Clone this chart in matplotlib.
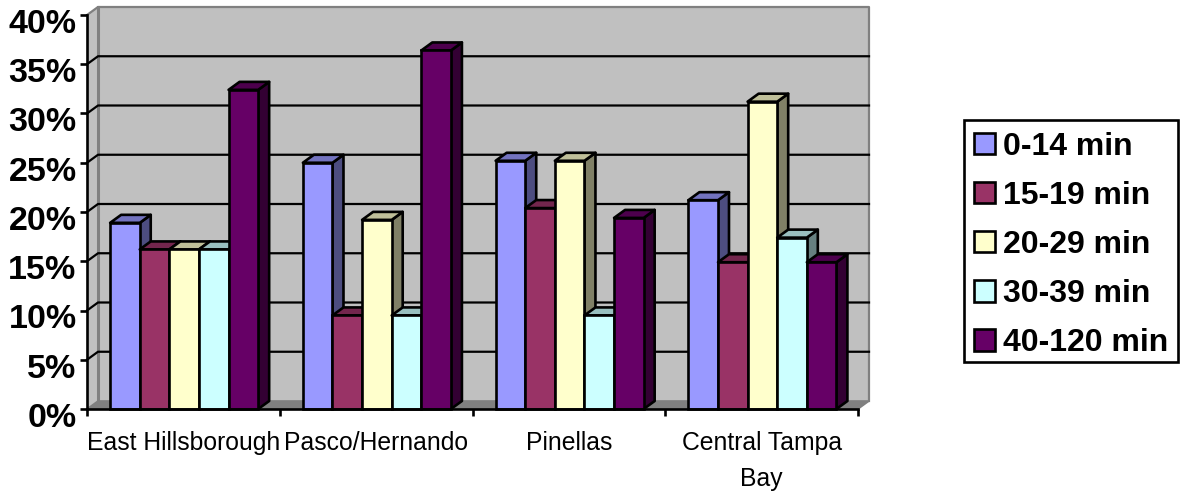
#-------------------------------------------------------------------------------
import numpy as np
import matplotlib
matplotlib.use('Agg')
import matplotlib.pyplot as plt
from matplotlib.patches import Polygon, Patch, Rectangle
from matplotlib.colors import to_rgb
from matplotlib.transforms import ScaledTranslation
#-------------------------------------------------------------------------------
categories = ['East Hillsborough', 'Pasco/Hernando', 'Pinellas', 'Central Tampa\nBay']
series     = ['0-14 min', '15-19 min', '20-29 min', '30-39 min', '40-120 min']
v_0_14     = [18.9, 25.0, 25.2, 21.2]
v_15_19    = [16.2,  9.5, 20.4, 14.9]
v_20_29    = [16.2, 19.2, 25.2, 31.2]
v_30_39    = [16.2,  9.5,  9.5, 17.4]
v_40_120   = [32.4, 36.4, 19.4, 14.9]
values     = [v_0_14, v_15_19, v_20_29, v_30_39, v_40_120]
colors     = ['#9999FF', '#993366', '#FFFFCC', '#CCFFFF', '#660066']
y_ticks    = [0, 5, 10, 15, 20, 25, 30, 35, 40]
#-------------------------------------------------------------------------------
W, H = 1183, 491
x0, x1 = 87, 858      # front axis, pixels
y0, y1 = 409, 15
plt.rcParams['font.family'] = ['Liberation Sans', 'DejaVu Sans']
fig = plt.figure(figsize=(W/100, H/100), dpi=100)
ax = fig.add_axes([x0/W, 1-y0/H, (x1-x0)/W, (y0-y1)/H])
ax.set_xlim(0, 4)
ax.set_ylim(0, 40)
#-------------------------------------------------------------------------------
# depth of the fake 3d box, in data units
dx = 11/((x1-x0)/4.)
dy = 8/((y0-y1)/40.)
lw = 1.9
def shade(c, f):
    return tuple(np.array(to_rgb(c))*f)
#-------------------------------------------------------------------------------
# walls and floor
ax.add_patch(Polygon([(dx, dy), (4+dx, dy), (4+dx, 40+dy), (dx, 40+dy)], fc='#C0C0C0', ec='none', zorder=1, clip_on=False))
ax.add_patch(Polygon([(0, 0), (dx, dy), (dx, 40+dy), (0, 40)], fc='#C0C0C0', ec='none', zorder=1, clip_on=False))
ax.add_patch(Polygon([(0, 0), (4, 0), (4+dx, dy), (dx, dy)], fc='#808080', ec='none', zorder=1, clip_on=False))
ax.plot([dx, dx], [dy, 40+dy], color='#808080', lw=2.2, zorder=1.5, clip_on=False)
ax.plot([0, dx, 4+dx, 4+dx], [40, 40+dy, 40+dy, dy], color='#808080', lw=1.6, zorder=1.5, clip_on=False)
ax.plot([0, dx, 4+dx, 4], [0, dy, dy, 0], color='#808080', lw=1.2, zorder=1.5, clip_on=False)
for t in y_ticks[1:-1]:
    ax.plot([0, dx, 4+dx], [t, t+dy, t+dy], color='k', lw=1.6, zorder=2, clip_on=False)
#-------------------------------------------------------------------------------
bw = 0.1536
start = 0.12
z = 3
for g in range(len(categories)):
    for s in range(len(series)):
        v = values[s][g]
        c = colors[s]
        x = g + start + s*bw
        ax.add_patch(Polygon([(x+bw, 0), (x+bw+dx, dy), (x+bw+dx, v+dy), (x+bw, v)],
                             fc=shade(c, 0.5), ec='k', lw=lw, zorder=z, clip_on=False, joinstyle='round'))
        ax.add_patch(Polygon([(x, v), (x+dx, v+dy), (x+bw+dx, v+dy), (x+bw, v)],
                             fc=shade(c, 0.75), ec='k', lw=lw, zorder=z, clip_on=False, joinstyle='round'))
        ax.bar(x, v, bw, align='edge', color=c, edgecolor='k', linewidth=lw, zorder=z+0.5, clip_on=False)
        z += 1
#-------------------------------------------------------------------------------
for sp in ['top', 'right']:
    ax.spines[sp].set_visible(False)
for sp in ['left', 'bottom']:
    ax.spines[sp].set_linewidth(lw)
    ax.spines[sp].set_zorder(100)
ax.patch.set_visible(False)
ax.set_yticks(y_ticks)
ax.set_yticklabels([str(t)+'%' for t in y_ticks], fontsize=24.5, fontweight='bold')
ax.set_xticks([0, 1, 2, 3, 4])
ax.set_xticklabels([])
ax.set_xticks([0.5, 1.5, 2.5, 3.5], minor=True)
ax.set_xticklabels(categories, minor=True, fontsize=17.8, linespacing=1.65)
ax.tick_params(axis='y', length=5, width=lw, pad=2.5)
ax.tick_params(axis='x', which='major', length=5, width=lw)
ax.tick_params(axis='x', which='minor', length=0, pad=15.5)
# y labels sit a little below their ticks
for lab in ax.get_yticklabels():
    lab.set_transform(lab.get_transform() + ScaledTranslation(0, -6/100., fig.dpi_scale_trans))
#-------------------------------------------------------------------------------
fig.add_artist(Rectangle((964/W, 1-362/H), 214/W, 242/H, transform=fig.transFigure, fc='w', ec='k', lw=lw))
handles = [Patch(fc=c, ec='k', lw=lw) for c in colors]
leg = fig.legend(handles, series, loc='upper left', bbox_to_anchor=(964/W, 1-122/H), borderaxespad=0,
                 prop={'size': 23, 'weight': 'bold'}, frameon=False,
                 handlelength=0.66, handleheight=0.66, handletextpad=0.25, labelspacing=0.6,
                 borderpad=0.3)
#-------------------------------------------------------------------------------
plt.savefig('out.png', dpi=100)
#-------------------------------------------------------------------------------
